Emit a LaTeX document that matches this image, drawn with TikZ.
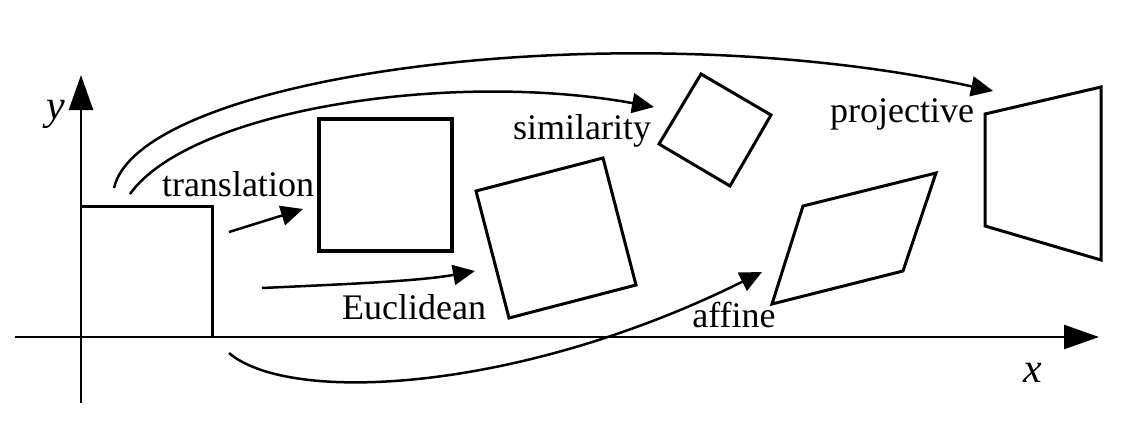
\documentclass[tikz,border=0pt]{standalone}
\usepackage{fontspec}
\setmainfont{Liberation Serif}
\usetikzlibrary{arrows.meta}
\begin{document}
\begin{tikzpicture}[x=1pt,y=-1pt,
  lbl/.style={font=\fontsize{36}{40}\selectfont, anchor=base, inner sep=0pt},
  axlbl/.style={font=\fontsize{42}{46}\selectfont\itshape, anchor=base, inner sep=0pt},
  fig/.style={line width=3pt, line join=miter},
  axis/.style={line width=2.5pt, -{Triangle[length=35pt,width=24pt]}},
  conn/.style={line width=2.5pt, -{Triangle[length=22pt,width=20pt]}}]
\useasboundingbox (0,0) rectangle (1136,437);
% axes
\coordinate (xs) at (15,337); \coordinate (xe) at (1099,337);
\coordinate (ys) at (81,403); \coordinate (ye) at (81,75);
\draw[axis] (xs) -- (xe);
\draw[axis] (ys) -- (ye);
\node[axlbl] (lx) at (1033,382) {x};
\node[axlbl] (ly) at (56,119) {y};
% shapes
\draw[fig] (81,206) -- (212,206) -- (212,337);
\draw[fig, line width=3.5pt] (319,119) rectangle (452,251);
\draw[fig] (476,191) -- (603,158) -- (636,285) -- (509,318) -- cycle;
\draw[fig] (701,74) -- (771,115) -- (730,186) -- (659,144) -- cycle;
\draw[fig] (803,206) -- (936,173) -- (903,271) -- (772,304) -- cycle;
\draw[fig] (985,114) -- (1101,87) -- (1101,260) -- (985,226) -- cycle;
% labels
\node[lbl] (ltr) at (238,196) {translation};
\node[lbl] (leu) at (414,319) {Euclidean};
\node[lbl] (lsi) at (582,139) {similarity};
\node[lbl] (laf) at (734,327) {affine};
\node[lbl] (lpr) at (902,122) {projective};
% arrow endpoints
\coordinate (trs) at (229,232); \coordinate (tre) at (303,209);
\coordinate (eus) at (262,288); \coordinate (eue) at (475,271);
\coordinate (sis) at (130,194); \coordinate (sie) at (654,107);
\coordinate (prs) at (114,188); \coordinate (pre) at (993,91);
\coordinate (afs) at (229,353); \coordinate (afe) at (762,272);
\draw[conn] (trs) -- (tre);
\draw[conn] (eus) .. controls (350,284) and (420,281) .. (eue);
\draw[conn] (sis) .. controls (190,110) and (450,70) .. (sie);
\draw[conn] (prs) .. controls (140,75) and (620,10) .. (pre);
\draw[conn] (afs) .. controls (290,405) and (520,392) .. (afe);
\end{tikzpicture}
\end{document}
